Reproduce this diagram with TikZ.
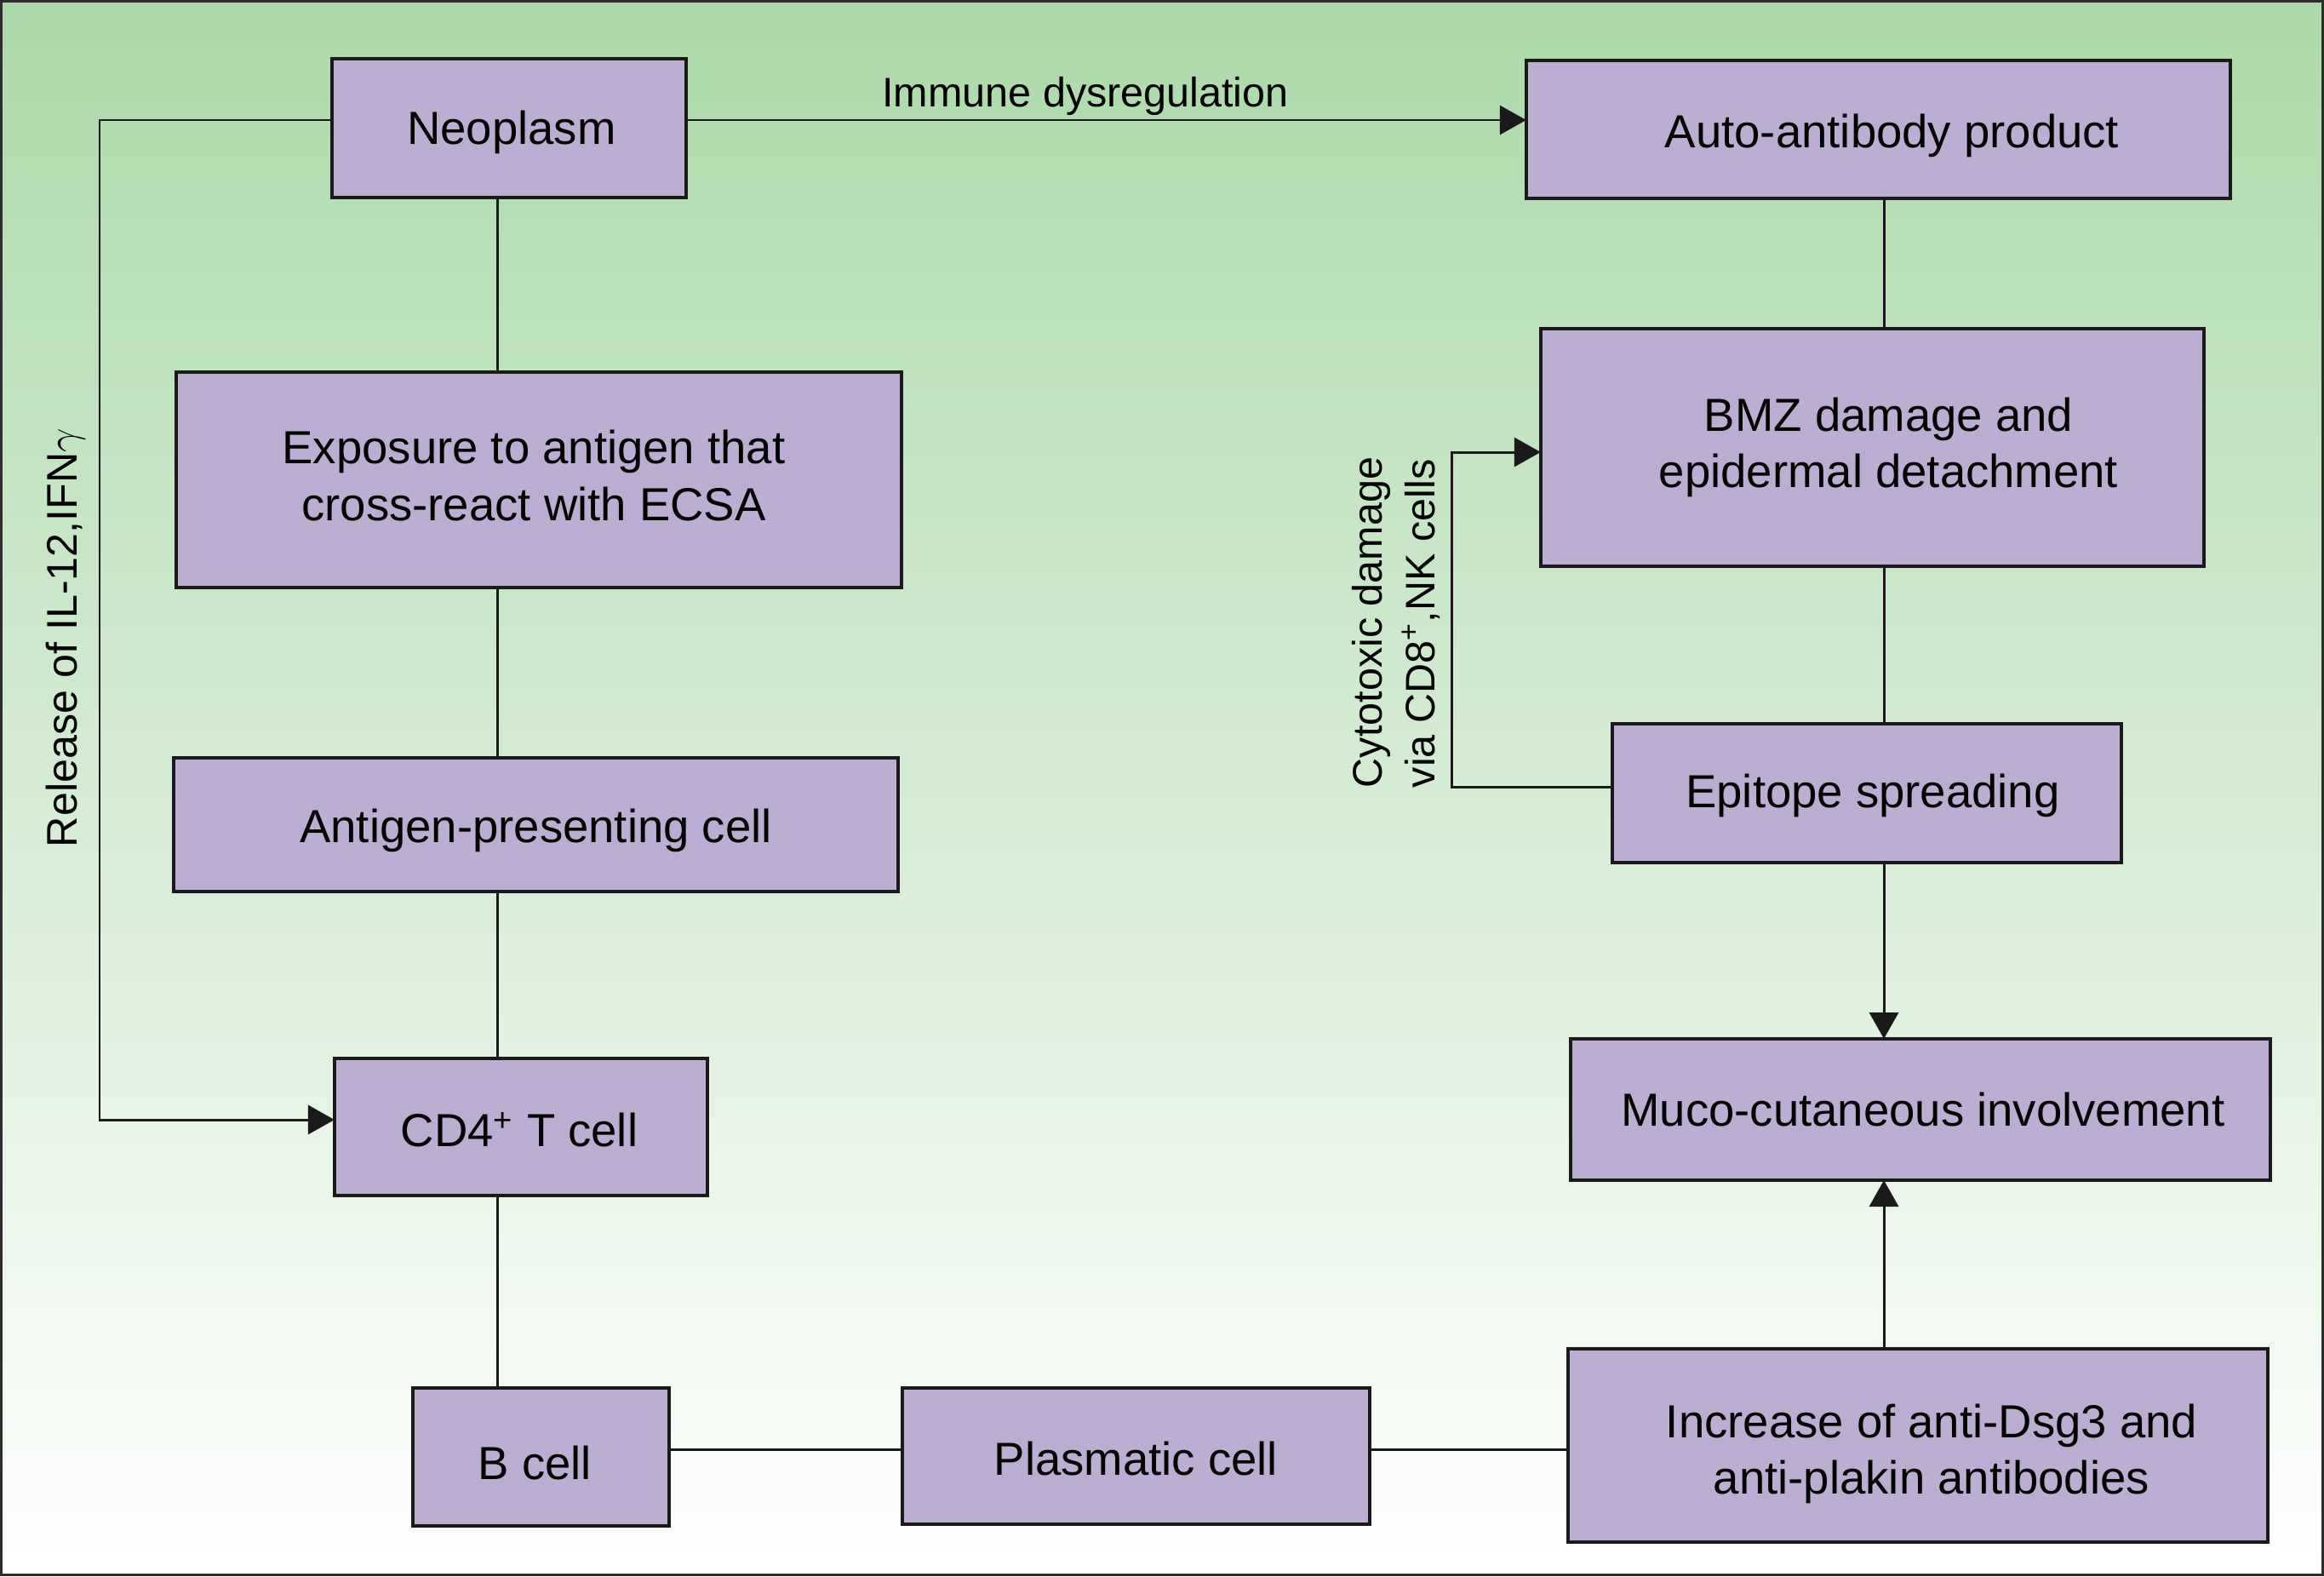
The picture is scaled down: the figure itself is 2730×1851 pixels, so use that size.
\documentclass[tikz,border=0pt]{standalone}
\usepackage{fontspec}
\setmainfont{Liberation Sans}
\usetikzlibrary{arrows.meta,positioning,calc}
\definecolor{bgtop}{RGB}{171,217,169}
\definecolor{boxfill}{RGB}{188,173,211}
\definecolor{edge}{RGB}{26,26,26}
\definecolor{frame}{RGB}{45,45,45}
\tikzset{
  box/.style={draw=edge, fill=boxfill, line width=1.15pt, inner sep=0pt, outer sep=0pt},
  txt/.style={inner sep=0pt, align=center, font=\fontsize{15.5}{18.8}\selectfont},
  conn/.style={draw=edge, line width=0.85pt},
  arr/.style={conn, -{Triangle[length=8.8pt,width=9.7pt]}},
  lbl/.style={inner sep=0pt, font=\fontsize{13.8}{17.4}\selectfont}
}
\begin{document}
\begin{tikzpicture}[x=0.01cm,y=-0.01cm]
\useasboundingbox (0,0) rectangle (2730,1851);
\shade[top color=bgtop, bottom color=white] (0,0) rectangle (2730,1851);
\draw[frame, line width=1.1pt] (1.5,1.5) rectangle (2728.5,1849.5);

% boxes
\node[box, minimum width=4.16cm, minimum height=1.63cm] (neo) at (598,150.5) {};
\node[box, minimum width=8.52cm, minimum height=2.53cm] (exp) at (633,563.5) {};
\node[box, minimum width=8.51cm, minimum height=1.57cm] (apc) at (629.5,968.5) {};
\node[box, minimum width=4.38cm, minimum height=1.61cm] (cd4) at (612,1323.5) {};
\node[box, minimum width=3.01cm, minimum height=1.62cm] (bcell) at (635.5,1711) {};
\node[box, minimum width=5.49cm, minimum height=1.60cm] (plas) at (1334.5,1710) {};
\node[box, minimum width=8.22cm, minimum height=2.27cm] (inc) at (2253,1697.5) {};
\node[box, minimum width=8.22cm, minimum height=1.66cm] (muco) at (2256,1303) {};
\node[box, minimum width=5.98cm, minimum height=1.63cm] (epi) at (2193,931.5) {};
\node[box, minimum width=7.79cm, minimum height=2.79cm] (bmz) at (2199.5,525.5) {};
\node[box, minimum width=8.27cm, minimum height=1.62cm] (auto) at (2206.5,152) {};

% box texts
\node[txt, shift={(3,5)}] (neo-t) at (neo) {Neoplasm};
\node[txt, shift={(-6,-5)}] (exp-t) at (exp) {Exposure to antigen that\\cross-react with ECSA};
\node[txt, shift={(0,7)}] (apc-t) at (apc) {Antigen-presenting cell};
\node[txt, shift={(-2,3)}] (cd4-t) at (cd4) {CD4\textsuperscript{+} T cell};
\node[txt, shift={(-7,7)}] (bcell-t) at (bcell) {B cell};
\node[txt, shift={(0,3)}] (plas-t) at (plas) {Plasmatic cell};
\node[txt, shift={(16,10)}] (inc-t) at (inc) {Increase of anti-Dsg3 and\\anti-plakin antibodies};
\node[txt, shift={(3,0)}] (muco-t) at (muco) {Muco-cutaneous involvement};
\node[txt, shift={(7,3)}] (epi-t) at (epi) {Epitope spreading};
\node[txt, shift={(19,0)}] (bmz-t) at (bmz) {BMZ damage and\\epidermal detachment};
\node[txt, shift={(16,7)}] (auto-t) at (auto) {Auto-antibody product};

% helper coordinates
\coordinate (vx) at (584,0);
\coordinate (rx) at (2213,0);
\coordinate (hy) at (0,141);
\coordinate (lx) at (117,0);
\coordinate (cdy) at (0,1315);
\coordinate (by) at (0,1702);
\coordinate (cx) at (1705,0);
\coordinate (cby) at (0,924);
\coordinate (cty) at (0,531);

% left column
\draw[conn] (vx |- neo.south) -- (vx |- exp.north);
\draw[conn] (vx |- exp.south) -- (vx |- apc.north);
\draw[conn] (vx |- apc.south) -- (vx |- cd4.north);
\draw[conn] (vx |- cd4.south) -- (vx |- bcell.north);

% top arrow
\draw[arr] (neo.east |- hy) -- (auto.west |- hy);
\node[lbl] (imm) at (1275,113) {Immune dysregulation};

% left loop
\draw[arr] (neo.west |- hy) -| (lx |- cdy) -- (cd4.west |- cdy);
\node[lbl, rotate=90, font=\fontsize{14.3}{17.4}\selectfont] (rel) at (77,749) {Release of IL-12,IFN$\gamma$};

% bottom row
\draw[conn] (bcell.east |- by) -- (plas.west |- by);
\draw[conn] (plas.east |- by) -- (inc.west |- by);

% right column
\draw[conn] (rx |- auto.south) -- (rx |- bmz.north);
\draw[conn] (rx |- bmz.south) -- (rx |- epi.north);
\draw[arr] (rx |- epi.south) -- (rx |- muco.north);
\draw[arr] (rx |- inc.north) -- (rx |- muco.south);

% cytotoxic loop
\draw[arr] (epi.west |- cby) -| (cx |- cty) -- (bmz.west |- cty);
\node[lbl, rotate=90, align=left] (cyt) at (1640,731) {Cytotoxic damage\\via CD8\textsuperscript{+},NK cells};
\end{tikzpicture}
\end{document}
